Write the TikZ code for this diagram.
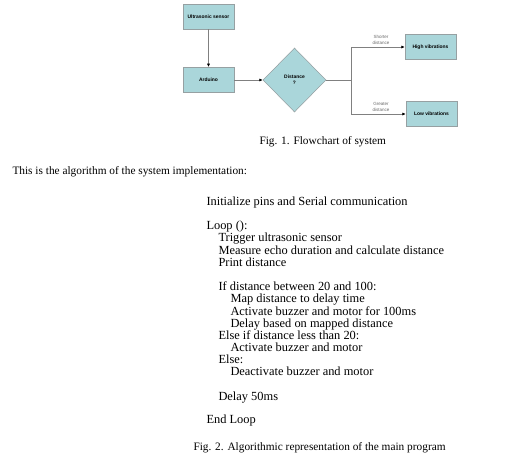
\documentclass[tikz,border=0pt]{standalone}
\usepackage{fontspec}
\setmainfont{Liberation Serif}
\newfontfamily\flowfont{Liberation Sans}
\usetikzlibrary{shapes.geometric,arrows.meta}

\definecolor{boxfill}{RGB}{170,214,218}
\definecolor{boxline}{RGB}{150,160,162}
\definecolor{edgegray}{RGB}{128,128,128}
\definecolor{labelgray}{RGB}{105,105,105}

\tikzset{every picture/.style={line width=0.75pt}}
\tikzset{
  flowbox/.style={draw=boxline,fill=boxfill,line width=0.4pt,minimum width=38.25pt,minimum height=19pt,inner sep=0pt,font=\flowfont\bfseries\fontsize{3.7}{4.4}\selectfont},
  decide/.style={diamond,aspect=1,draw=boxline,fill=boxfill,line width=0.4pt,minimum width=47.25pt,minimum height=48pt,inner sep=0pt,align=center,font=\flowfont\bfseries\fontsize{3.7}{4.4}\selectfont},
  flowedge/.style={draw=edgegray,line width=0.6pt,-{Latex[length=2.6pt,width=2.4pt,color=black]}},
  edgelabel/.style={text=labelgray,align=center,inner sep=0pt,font=\flowfont\fontsize{3.4}{4.4}\selectfont},
  caption/.style={anchor=west,inner sep=0pt,font=\fontsize{8.5}{10}\selectfont},
  algline/.style={anchor=west,inner sep=0pt,text height=0.7em,text depth=0.2em,font=\fontsize{9.3}{11}\selectfont}
}

\begin{document}
\begin{tikzpicture}[x=0.75pt,y=0.75pt,yscale=-1,xscale=1]
	\useasboundingbox (0,0) rectangle (517,465);
	
	%Flowchart boxes
	\node [flowbox] (sensor) at (208.5,16.5) {Ultrasonic sensor};
	\node [flowbox] (arduino) at (208.5,80) {Arduino};
	\node [decide] (distance) at (294.5,80) {Distance\\?};
	\node [flowbox] (high) at (430.5,47) {High vibrations};
	\node [flowbox] (low) at (431.5,114) {Low vibrations};
	\coordinate (split) at (351,80);
	
	%Connectors
	\draw [flowedge] (sensor) -- (arduino);
	\draw [flowedge] (arduino) -- (distance);
	\draw [draw=edgegray,line width=0.6pt] (distance.east) -- (split);
	\draw [flowedge] (split) |- (high.west);
	\draw [flowedge] (split) |- (low.west);
	
	% Text Node
	\node [edgelabel] (shorter) at (381,40) {Shorter\\distance};
	% Text Node
	\node [edgelabel] (greater) at (381,107) {Greater\\distance};
	
	% Captions
	\node [caption] (fig1) at (259,142) {Fig. 1. Flowchart of system};
	\node [caption] (intro) at (12,172) {This is the algorithm of the system implementation:};
	
	% Algorithm lines
	\node [algline] (init) at (206,202) {Initialize pins and Serial communication};
	\node [algline] (loop) at (206,226) {Loop ():};
	\node [algline] (trigger) at (218,238) {Trigger ultrasonic sensor};
	\node [algline] (measure) at (218,251) {Measure echo duration and calculate distance};
	\node [algline] (print) at (218,263) {Print distance};
	\node [algline] (ifdist) at (218,287) {If distance between 20 and 100:};
	\node [algline] (map) at (230,299) {Map distance to delay time};
	\node [algline] (act100) at (230,312) {Activate buzzer and motor for 100ms};
	\node [algline] (delaymap) at (230,324) {Delay based on mapped distance};
	\node [algline] (elseif) at (218,336) {Else if distance less than 20:};
	\node [algline] (act) at (230,348) {Activate buzzer and motor};
	\node [algline] (else) at (218,360) {Else:};
	\node [algline] (deact) at (230,372) {Deactivate buzzer and motor};
	\node [algline] (delay50) at (218,397) {Delay 50ms};
	\node [algline] (endloop) at (206,420) {End Loop};
	
	\node [caption] (fig2) at (193,448) {Fig. 2. Algorithmic representation of the main program};
	
\end{tikzpicture}
\end{document}
